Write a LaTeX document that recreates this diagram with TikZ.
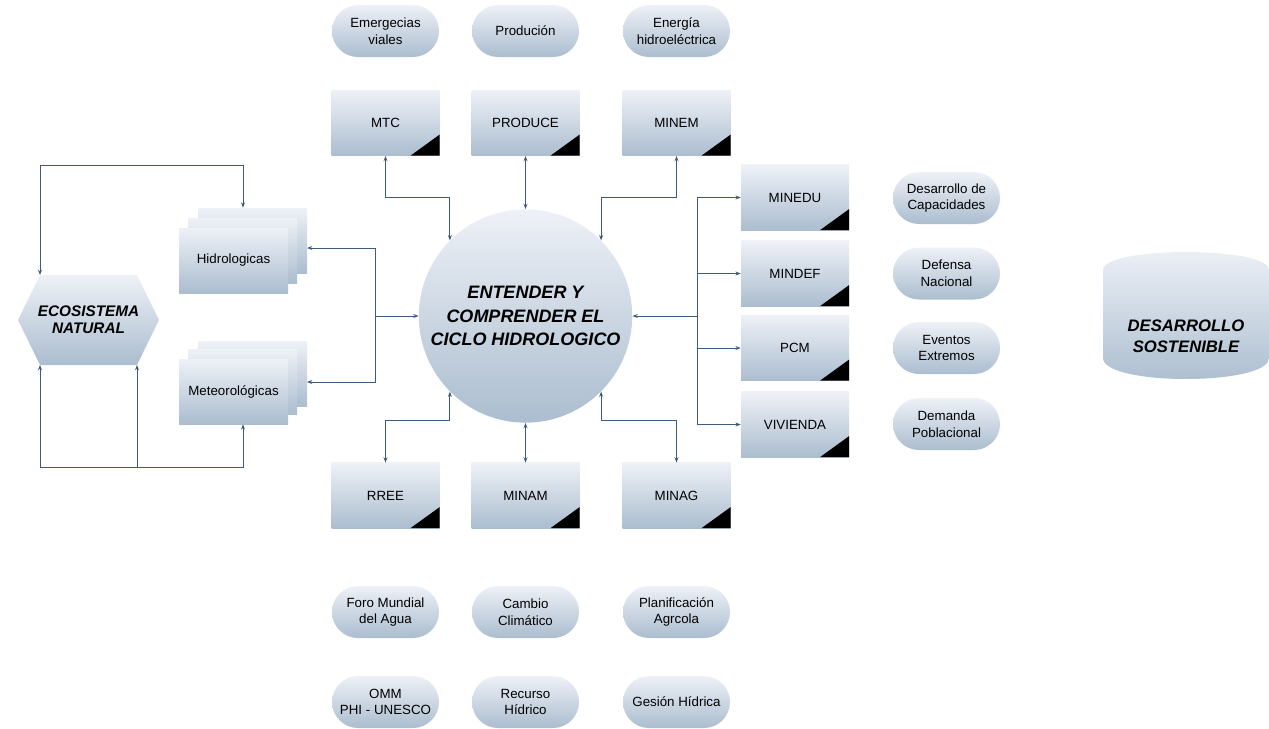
\documentclass[tikz,border=0pt]{standalone}
\usepackage{fontspec}
\setmainfont{Liberation Sans}
\usetikzlibrary{arrows.meta,backgrounds}
\definecolor{gtop}{HTML}{EEF1F7}
\definecolor{gbot}{HTML}{ABBDCF}
\definecolor{lnc}{HTML}{3F5B7B}
\tikzset{
  shadefill/.style={top color=gtop,bottom color=gbot,draw=none},
  orgbox/.style={shadefill,rectangle,minimum width=81pt,minimum height=49pt,inner sep=0pt,
    font=\fontsize{10}{12}\selectfont,
    path picture={\fill[black] (path picture bounding box.south east) -- ++(-21.75pt,0) -- ++(21.75pt,15.75pt) -- cycle;}},
  stackbox/.style={shadefill,rectangle,minimum width=81.75pt,minimum height=48.75pt,inner sep=0pt,
    font=\fontsize{10}{12}\selectfont},
  pill/.style={shadefill,rectangle,rounded corners=19.5pt,minimum width=80.25pt,minimum height=39pt,
    inner sep=0pt,align=center,font=\fontsize{10}{12.5}\selectfont},
  conn/.style={draw=lnc,line width=0.75pt,>={Stealth[length=4pt,width=3pt]}},
}
\begin{document}
\begin{tikzpicture}[x=0.75pt,y=-0.75pt]
\useasboundingbox (0,0) rectangle (1269,728);

% ---- central circle
\node[shadefill,circle,minimum size=160pt,inner sep=0pt,align=center,
  font=\fontsize{13.5}{17.6}\selectfont\bfseries\itshape] (ent) at (525.5,316)
  {ENTENDER Y\\COMPRENDER EL\\CICLO HIDROLOGICO};

% ---- top pills
\node[pill] (p1) at (385.5,31) {Emergecias\\viales};
\node[pill] (p2) at (525.5,31) {Produción};
\node[pill] (p3) at (676.5,31) {Energía\\hidroeléctrica};

% ---- top boxes
\node[orgbox] (mtc) at (385.5,123) {MTC};
\node[orgbox] (prod) at (525.5,123) {PRODUCE};
\node[orgbox] (minem) at (676.5,123) {MINEM};

% ---- right boxes
\node[orgbox] (minedu) at (795,197.5) {MINEDU};
\node[orgbox] (mindef) at (795,273.5) {MINDEF};
\node[orgbox] (pcm) at (795,348) {PCM};
\node[orgbox] (viv) at (795,424.5) {VIVIENDA};

% ---- right pills
\node[pill] (r1) at (946.5,198) {Desarrollo de\\Capacidades};
\node[pill] (r2) at (946.5,273.5) {Defensa\\Nacional};
\node[pill] (r3) at (946.5,348) {Eventos\\Extremos};
\node[pill] (r4) at (946.5,424) {Demanda\\Poblacional};

% ---- bottom boxes
\node[orgbox] (rree) at (385.5,495.5) {RREE};
\node[orgbox] (minam) at (525.5,495.5) {MINAM};
\node[orgbox] (minag) at (676.5,495.5) {MINAG};

% ---- bottom pills
\node[pill] (b1) at (385.5,612) {Foro Mundial\\del Agua};
\node[pill] (b2) at (525.5,612) {Cambio\\Climático};
\node[pill] (b3) at (676.5,612) {Planificación\\Agrcola};
\node[pill] (b4) at (385.5,702) {OMM\\PHI - UNESCO};
\node[pill] (b5) at (525.5,702) {Recurso\\Hídrico};
\node[pill] (b6) at (676.5,702) {Gesión Hídrica};

% ---- stacked boxes
\node[stackbox] (hidb) at (252.5,240.5) {};
\node[stackbox] (hidm) at (242.5,250.5) {};
\node[stackbox] (hid) at (233.5,260.5) {Hidrologicas};
\node[stackbox] (metb) at (252.5,373.5) {};
\node[stackbox] (metm) at (242.5,381.5) {};
\node[stackbox] (met) at (233.5,391.5) {Meteorológicas};

% ---- ecosystem hexagon
\coordinate (etl) at (40,275);
\coordinate (etr) at (137,275);
\coordinate (eer) at (159,320);
\coordinate (ebr) at (137,365);
\coordinate (ebl) at (40,365);
\coordinate (eel) at (18,320);
\shade[shadefill] (etl) -- (etr) -- (eer) -- (ebr) -- (ebl) -- (eel) -- cycle;
\node[align=center,inner sep=0pt,font=\fontsize{11.5}{13}\selectfont\bfseries\itshape] (eco) at (88.5,320)
  {ECOSISTEMA\\NATURAL};

% ---- desarrollo sostenible cylinder
\shade[shadefill] (1103,270) .. controls (1103,246) and (1269,246) .. (1269,270)
  -- (1269,358) .. controls (1269,386) and (1103,386) .. (1103,358) -- cycle;
\node[align=center,inner sep=0pt,font=\fontsize{12.5}{16}\selectfont\bfseries\itshape] (ds) at (1186,336)
  {DESARROLLO\\SOSTENIBLE};

% ---- connectors around circle
\coordinate (ytop) at (0,197);
\coordinate (ybot) at (0,420);
\draw[conn,<->] (mtc.south) -- (mtc.south |- ytop) -| (ent.135);
\draw[conn,<->] (prod.south) -- (ent.north);
\draw[conn,<->] (minem.south) -- (minem.south |- ytop) -| (ent.45);
\draw[conn,<->] (rree.north) -- (rree.north |- ybot) -| (ent.225);
\draw[conn,<->] (minam.north) -- (ent.south);
\draw[conn,<->] (minag.north) -- (minag.north |- ybot) -| (ent.315);

% left junction
\coordinate (jl) at (375,316);
\coordinate (hin) at (307,248);
\coordinate (min) at (307,382);
\draw[conn,->] (jl) -- (ent.west);
\draw[conn,->] (jl) |- (hin);
\draw[conn,->] (jl) |- (min);

% right junction
\coordinate (jr) at (697,316);
\draw[conn,->] (jr) -- (ent.east);
\draw[conn,->] (jr |- minedu.west) -- (minedu.west);
\draw[conn,->] (jr) |- (mindef.west);
\draw[conn,->] (jr) |- (pcm.west);
\draw[conn,->] (jr |- minedu.west) -- (jr |- viv.west) -- (viv.west);

% ecosystem loops
\coordinate (lt) at (40,165);
\coordinate (lt2) at (243,165);
\coordinate (lb) at (40,467);
\coordinate (lb2) at (243,467);
\coordinate (lb3) at (137,467);
\draw[conn,<->] (etl) -- (lt) -- (lt2) -- (lt2 |- hidb.north);
\draw[conn,<->] (ebl) -- (lb) -- (lb2) -- (lb2 |- met.south);
\draw[conn,->] (lb3) -- (ebr);
\end{tikzpicture}
\end{document}
